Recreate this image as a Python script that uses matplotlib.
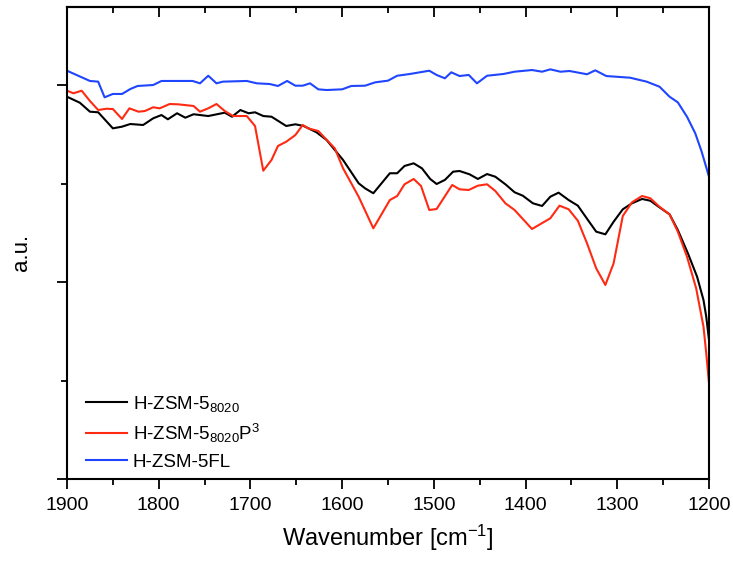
import numpy as np
import matplotlib
matplotlib.use("Agg")
import matplotlib.pyplot as plt
from matplotlib.ticker import MultipleLocator, NullFormatter

plt.rcParams['font.family'] = ['Liberation Sans', 'DejaVu Sans']
plt.rcParams['mathtext.fontset'] = 'custom'
plt.rcParams['mathtext.rm'] = 'Liberation Sans'
plt.rcParams['mathtext.it'] = 'Liberation Sans'

# ---- data ----
wn_fl = [1900, 1875, 1866, 1859, 1850, 1840, 1831, 1823, 1806, 1797, 1763, 1755, 1746, 1737, 1730,
         1704, 1693, 1679, 1670, 1660, 1651, 1643, 1635, 1626, 1617, 1600, 1590, 1575, 1564, 1550,
         1540, 1526, 1505, 1497, 1488, 1481, 1472, 1462, 1453, 1442, 1424, 1412, 1393, 1382, 1373,
         1362, 1352, 1333, 1324, 1312, 1286, 1268, 1254, 1243, 1234, 1224, 1215, 1208, 1200]
ab_fl = [4.145, 4.041, 4.034, 3.875, 3.909, 3.909, 3.959, 3.990, 4.000, 4.041, 4.041, 4.017, 4.094,
         4.017, 4.034, 4.041, 4.017, 4.010, 3.990, 4.041, 3.993, 3.993, 4.017, 3.956, 3.949, 3.956,
         3.990, 3.993, 4.027, 4.044, 4.094, 4.112, 4.145, 4.102, 4.068, 4.129, 4.091, 4.102, 4.017,
         4.094, 4.112, 4.135, 4.152, 4.135, 4.159, 4.135, 4.142, 4.109, 4.149, 4.091, 4.074, 4.034,
         3.983, 3.881, 3.824, 3.678, 3.510, 3.323, 3.069]

wn_8020 = [1900, 1886, 1875, 1866, 1850, 1840, 1831, 1817, 1806, 1797, 1790, 1780, 1771, 1762, 1746,
           1728, 1720, 1711, 1702, 1695, 1686, 1677, 1661, 1651, 1642, 1628, 1617, 1599, 1582, 1575,
           1566, 1548, 1540, 1532, 1522, 1513, 1504, 1497, 1488, 1479, 1472, 1461, 1452, 1442, 1433,
           1422, 1412, 1403, 1392, 1382, 1373, 1364, 1353, 1343, 1332, 1323, 1313, 1304, 1294, 1284,
           1273, 1264, 1254, 1243, 1234, 1223, 1213, 1206, 1203, 1200]
ab_8020 = [3.881, 3.820, 3.729, 3.723, 3.560, 3.577, 3.604, 3.594, 3.662, 3.695, 3.652, 3.713, 3.668,
           3.703, 3.685, 3.719, 3.678, 3.746, 3.713, 3.723, 3.685, 3.678, 3.584, 3.601, 3.584, 3.520,
           3.442, 3.239, 3.002, 2.951, 2.901, 3.104, 3.104, 3.178, 3.205, 3.154, 3.046, 2.995, 3.036,
           3.120, 3.127, 3.093, 3.046, 3.096, 3.069, 2.992, 2.911, 2.876, 2.799, 2.772, 2.866, 2.907,
           2.832, 2.775, 2.629, 2.511, 2.484, 2.612, 2.738, 2.799, 2.843, 2.825, 2.758, 2.687, 2.528,
           2.291, 2.054, 1.817, 1.648, 1.411]

wn_p3 = [1900, 1893, 1884, 1875, 1866, 1857, 1850, 1840, 1832, 1822, 1815, 1806, 1799, 1788, 1779,
         1762, 1755, 1746, 1737, 1728, 1719, 1704, 1695, 1686, 1677, 1670, 1661, 1651, 1643, 1637,
         1626, 1608, 1599, 1582, 1566, 1548, 1540, 1532, 1522, 1514, 1505, 1497, 1480, 1472, 1462,
         1452, 1442, 1433, 1422, 1412, 1393, 1373, 1363, 1353, 1343, 1333, 1323, 1313, 1304, 1294,
         1284, 1273, 1264, 1254, 1243, 1234, 1224, 1214, 1206, 1203, 1200]
ab_p3 = [3.942, 3.916, 3.942, 3.838, 3.746, 3.759, 3.756, 3.655, 3.763, 3.729, 3.736, 3.774, 3.763,
         3.807, 3.804, 3.787, 3.729, 3.763, 3.807, 3.736, 3.685, 3.685, 3.584, 3.130, 3.239, 3.381,
         3.424, 3.492, 3.594, 3.560, 3.533, 3.357, 3.154, 2.866, 2.545, 2.832, 2.873, 2.992, 3.046,
         2.975, 2.731, 2.741, 2.985, 2.941, 2.934, 2.978, 2.992, 2.924, 2.799, 2.731, 2.538, 2.647,
         2.775, 2.738, 2.622, 2.393, 2.139, 1.970, 2.190, 2.670, 2.809, 2.873, 2.850, 2.764, 2.687,
         2.511, 2.257, 1.936, 1.546, 1.276, 0.972]

labels = ["H-ZSM-5$_{8020}$", "H-ZSM-5$_{8020}$P$^{3}$", "H-ZSM-5FL"]
colors = ["#000000", "#FF2A12", "#1F45FF"]

fig = plt.figure(figsize=(7.33, 5.62), dpi=100)
ax = fig.add_axes([67/733, 1-479/562, (709-67)/733, (479-7)/562])

ax.plot(wn_8020, ab_8020, color=colors[0], lw=1.5, label=labels[0])
ax.plot(wn_p3, ab_p3, color=colors[1], lw=1.5, label=labels[1])
ax.plot(wn_fl, ab_fl, color=colors[2], lw=1.5, label=labels[2])

ax.set_xlim(1900, 1200)
ax.set_ylim(0, (479-7)/98.5)

ax.xaxis.set_major_locator(MultipleLocator(100))
ax.xaxis.set_minor_locator(MultipleLocator(50))
ax.yaxis.set_major_locator(MultipleLocator(2))
ax.yaxis.set_minor_locator(MultipleLocator(1))
ax.yaxis.set_major_formatter(NullFormatter())

ax.tick_params(axis='x', which='major', direction='out', length=7, width=1.3, labelsize=14, pad=6)
ax.tick_params(axis='x', which='minor', direction='out', length=4, width=1.3)
ax.tick_params(axis='y', which='major', direction='out', length=7, width=1.3)
ax.tick_params(axis='y', which='minor', direction='out', length=4, width=1.3)

sec = ax.secondary_xaxis('top')
sec.xaxis.set_major_locator(MultipleLocator(100))
sec.xaxis.set_minor_locator(MultipleLocator(50))
sec.tick_params(axis='x', which='major', direction='in', length=7, width=1.3, labeltop=False)
sec.tick_params(axis='x', which='minor', direction='in', length=4, width=1.3)
sec.spines['top'].set_linewidth(1.5)

for s in ax.spines.values():
    s.set_linewidth(1.5)

ax.set_xlabel("Wavenumber [cm$^{-1}$]", fontsize=17, labelpad=6)
ax.set_ylabel("a.u.", fontsize=16)
ax.yaxis.set_label_coords(-0.055, 0.479)

ax.legend(loc='upper left', bbox_to_anchor=(0.018, 0.197), frameon=False, fontsize=13.5,
          handlelength=2.2, handletextpad=0.3, labelspacing=0.45, borderaxespad=0)

fig.savefig("out.png", dpi=100)
